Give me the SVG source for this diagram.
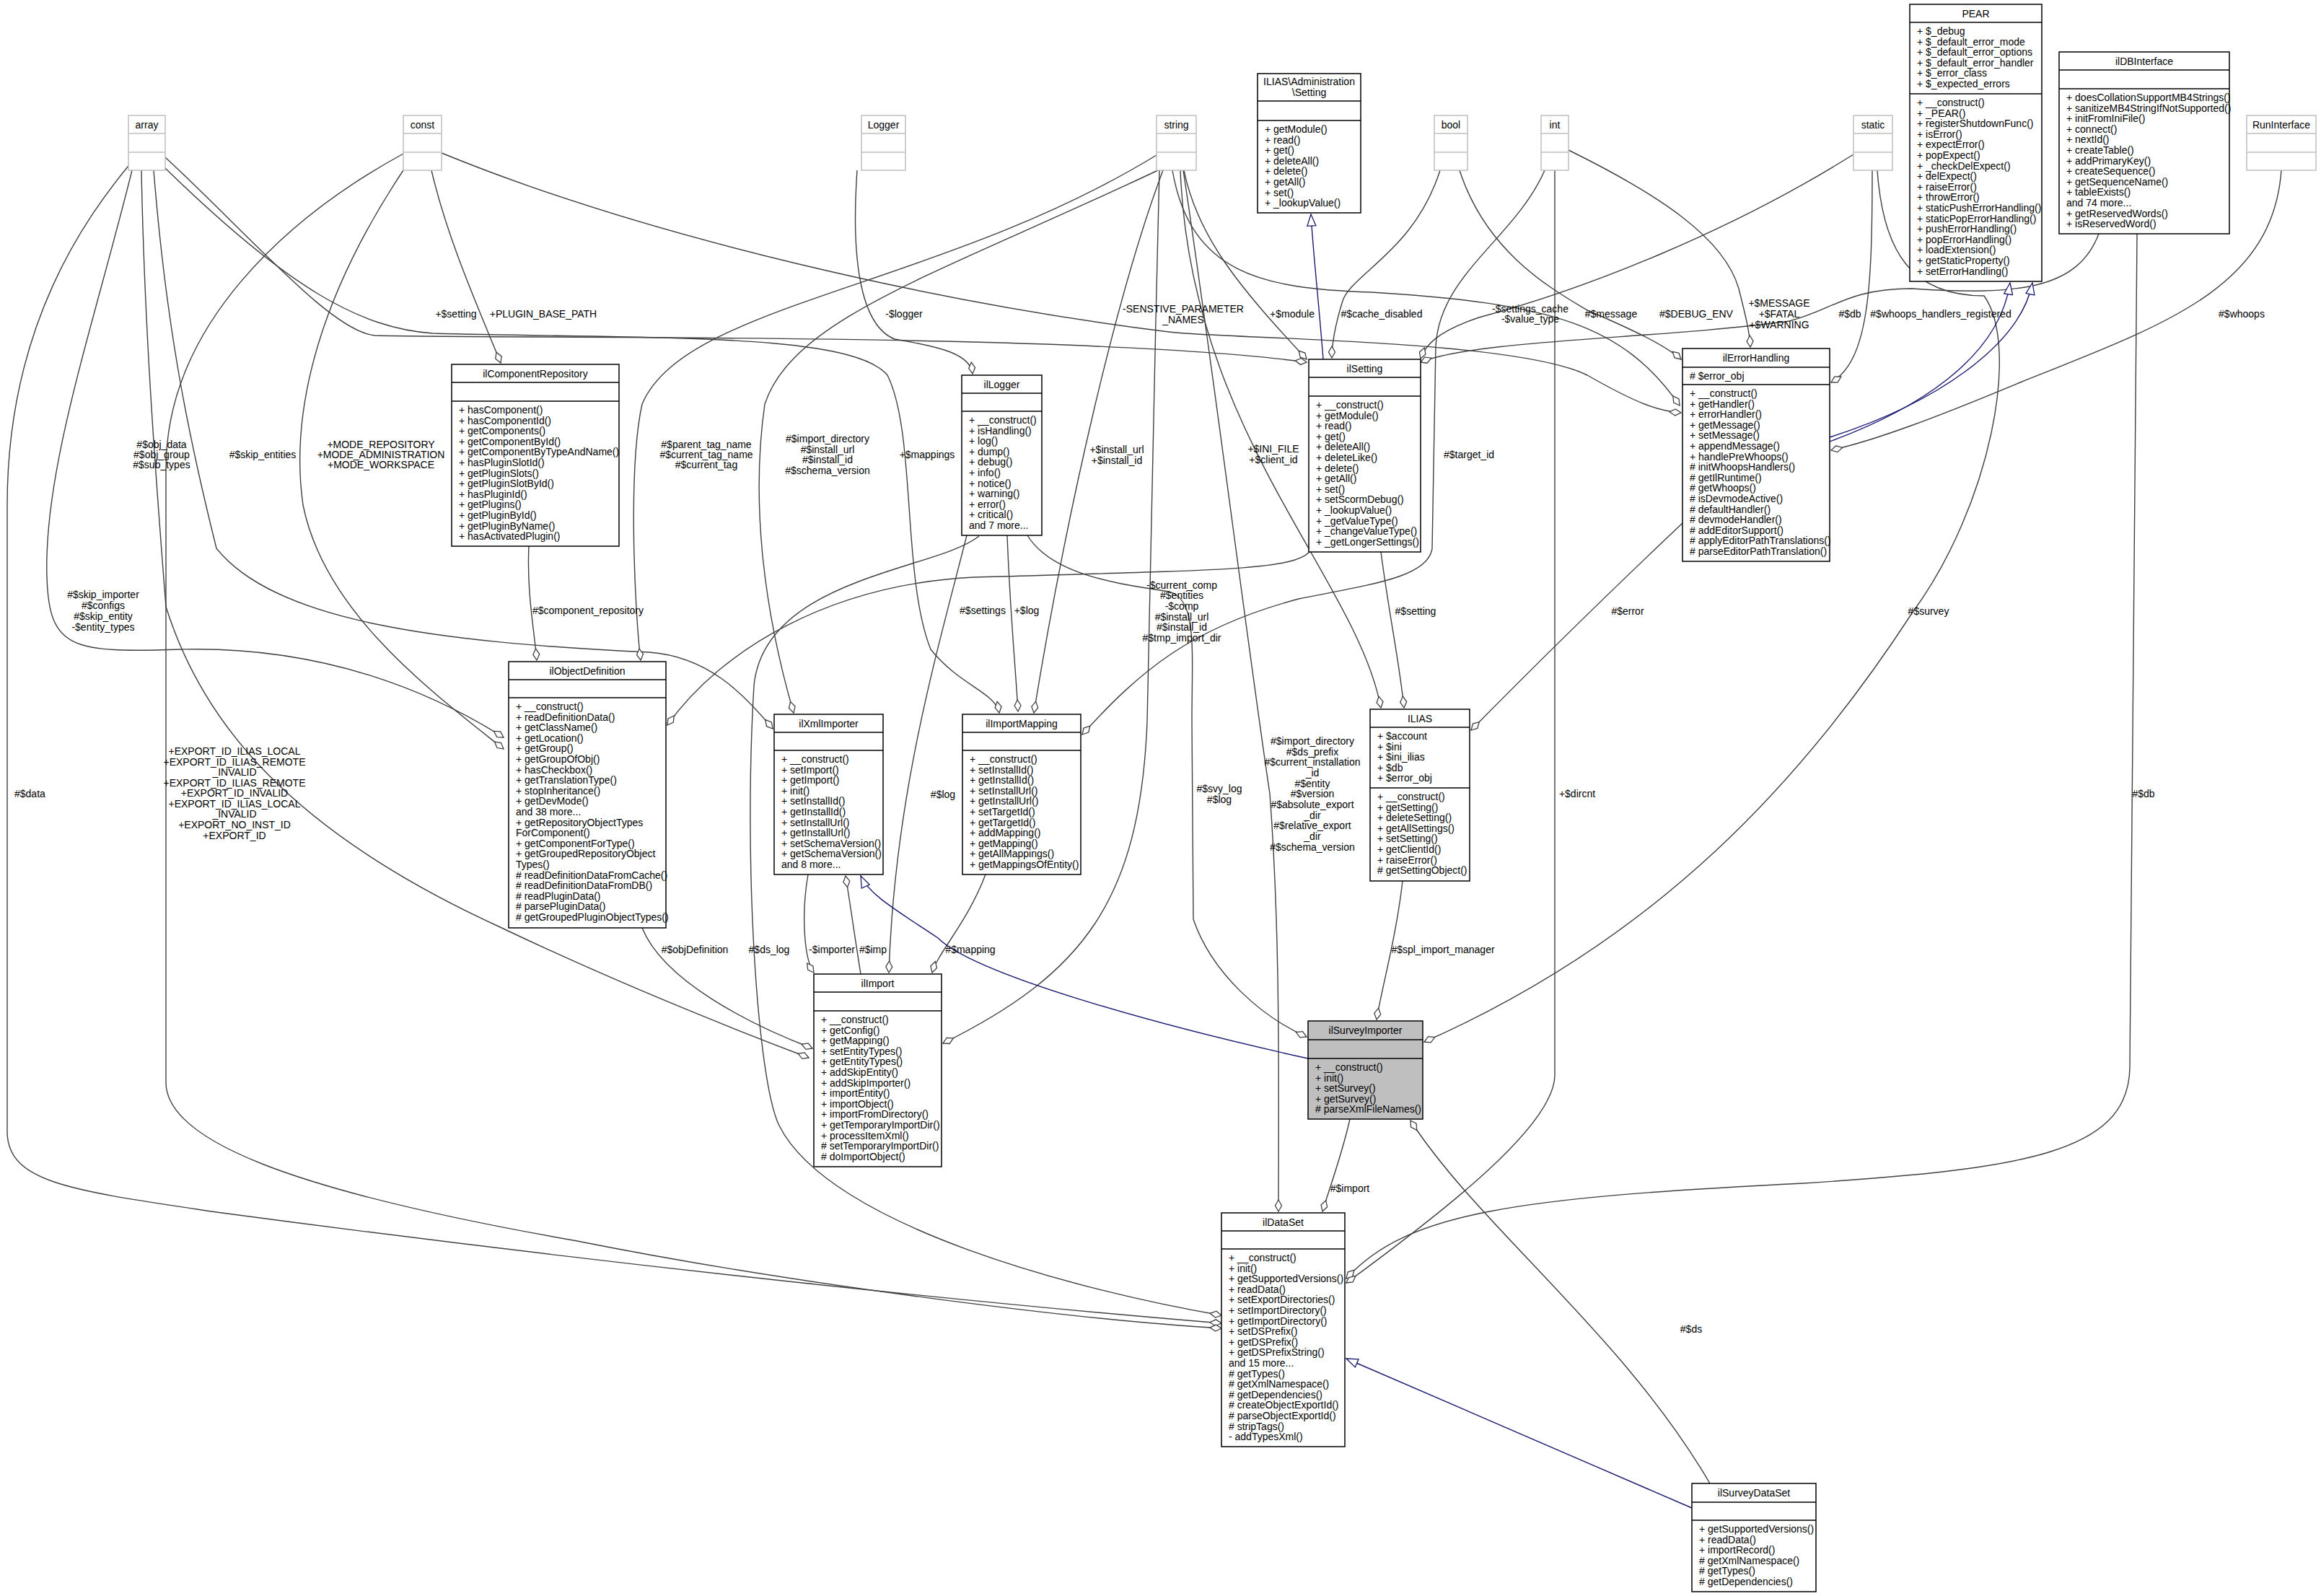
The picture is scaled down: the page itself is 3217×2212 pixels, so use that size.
<svg xmlns="http://www.w3.org/2000/svg" width="3217" height="2212" viewBox="0 0 3217 2212">
<style>
text{font-family:"Liberation Sans",Arial,sans-serif;font-size:14px;fill:#000}
.c{text-anchor:middle}
.b{fill:#fff;stroke:#000;stroke-width:1.5}
.g{fill:#fff;stroke:#bfbfbf;stroke-width:1.5}
.s{fill:#bfbfbf;stroke:#000;stroke-width:1.5}
.l{stroke:#000;stroke-width:1.5}
.lg{stroke:#bfbfbf;stroke-width:1.5}
.e{fill:none;stroke:#404040;stroke-width:1.4;marker-end:url(#dia)}
.i{fill:none;stroke:#191970;stroke-width:1.4;marker-end:url(#tri)}
</style>
<defs>
<marker id="dia" markerUnits="userSpaceOnUse" markerWidth="20" markerHeight="12" viewBox="-18 -6 20 12" refX="0" refY="0" orient="auto"><path d="M0,0 L-8,-4.5 L-16,0 L-8,4.5 Z" fill="#fff" stroke="#404040" stroke-width="1.3"/></marker>
<marker id="tri" markerUnits="userSpaceOnUse" markerWidth="20" markerHeight="14" viewBox="-18 -7 20 14" refX="0" refY="0" orient="auto"><path d="M0,0 L-16,-6 L-16,6 Z" fill="#fff" stroke="#191970" stroke-width="1.3"/></marker>
</defs>
<rect width="3217" height="2212" fill="#fff"/>
<g id="connectors">
<path class="e" d="M182,225 C120,300 10,450 10,700 L10,1570 C12,1640 100,1650 300,1680 C900,1760 1400,1810 1693,1834"/>
<path class="e" d="M559,213 C400,300 230,450 230,650 L230,1500 C230,1580 400,1650 800,1720 C1100,1780 1500,1830 1693,1841"/>
<path class="e" d="M183,236 C130,450 60,650 65,800 C68,900 100,905 250,900 C450,895 600,960 698,1022"/>
<path class="e" d="M196,236 C200,450 215,650 230,841 C280,1000 400,1150 689,1283 C850,1360 1000,1420 1121,1466"/>
<path class="e" d="M213,236 C230,450 260,600 300,760 C380,860 600,890 900,904 C980,910 1030,960 1071,1010"/>
<path class="e" d="M229,218 C350,330 460,460 520,465 C700,470 1500,460 1811,502"/>
<path class="e" d="M229,233 C400,400 500,455 600,462 C900,470 1180,460 1230,520 C1270,600 1250,800 1290,900 C1330,950 1380,960 1385,988"/>
<path class="e" d="M598,236 C620,330 660,420 694,503"/>
<path class="e" d="M559,236 C450,400 400,560 420,700 C450,850 600,960 698,1038"/>
<path class="e" d="M612,212 C900,330 1300,420 1620,460 C1700,470 2100,470 2200,520 C2270,560 2300,570 2330,572"/>
<path class="e" d="M1188,236 C1180,350 1190,450 1240,470 C1300,480 1345,490 1348,518"/>
<path class="e" d="M1603,215 C1300,400 950,420 890,560 C870,650 880,850 888,915"/>
<path class="e" d="M1605,236 C1300,380 1100,440 1060,560 C1040,700 1060,850 1100,988"/>
<path class="e" d="M1612,236 C1550,400 1480,700 1433,988"/>
<path class="e" d="M1641,236 C1660,330 1720,400 1811,498"/>
<path class="e" d="M1625,236 C1650,380 1750,400 1900,405 C2150,420 2250,450 2328,562"/>
<path class="e" d="M1636,236 C1650,600 1880,800 1914,981"/>
<path class="e" d="M1640,236 C1680,500 1730,900 1760,1100 C1775,1300 1772,1500 1772,1679"/>
<path class="e" d="M1607,236 C1600,500 1595,800 1590,1000 C1580,1250 1500,1350 1307,1446"/>
<path class="e" d="M1424,742 C1460,800 1560,810 1620,820 C1660,830 1652,900 1652,1000 L1654,1274 C1680,1350 1750,1410 1811,1437"/>
<path class="e" d="M1996,236 C1960,350 1870,380 1860,420 C1848,460 1846,480 1846,496"/>
<path class="e" d="M2023,236 C2060,350 2150,400 2200,430 C2270,460 2310,480 2330,498"/>
<path class="e" d="M2174,208 C2300,270 2390,330 2410,400 C2420,440 2425,460 2426,481"/>
<path class="e" d="M2141,236 C2100,330 1995,380 1990,480 L1985,760 C1980,800 1900,810 1800,830 C1650,870 1580,930 1500,1018"/>
<path class="e" d="M2155,236 L2155,1490 C2155,1560 2000,1680 1866,1778"/>
<path class="e" d="M2569,214 C2400,320 2200,400 2050,440 C1990,460 1975,480 1969,497"/>
<path class="e" d="M2595,236 C2595,400 2590,500 2538,530"/>
<path class="e" d="M2602,236 C2610,350 2650,410 2750,410 C2800,480 2760,700 2650,850 C2500,1080 2300,1300 1974,1444"/>
<path class="e" d="M2909,324 C2880,400 2800,410 2650,400 C2560,400 2540,430 2480,445 C2300,470 2050,470 1969,502"/>
<path class="e" d="M2962,324 L2952,1480 C2950,1600 2800,1620 2500,1640 C2100,1660 1950,1680 1866,1772"/>
<path class="e" d="M3162,236 C3150,400 3000,450 2800,530 C2680,580 2600,610 2538,624"/>
<path class="e" d="M733,757 C730,820 740,870 744,915"/>
<path class="e" d="M1815,765 C1790,790 1700,790 1350,800 C1150,810 1000,900 925,1005"/>
<path class="e" d="M1340,742 C1300,900 1240,1100 1232,1348"/>
<path class="e" d="M1396,742 C1400,850 1408,930 1411,986"/>
<path class="e" d="M1357,743 C1300,790 1060,800 1045,950 C1030,1200 1050,1500 1080,1560 C1150,1700 1500,1790 1693,1823"/>
<path class="e" d="M1914,765 C1925,850 1940,920 1946,981"/>
<path class="e" d="M2332,725 C2200,850 2100,950 2039,1012"/>
<path class="e" d="M1944,1221 C1935,1300 1915,1370 1908,1413"/>
<path class="e" d="M890,1286 C920,1360 1040,1420 1126,1453"/>
<path class="e" d="M1120,1212 C1110,1270 1115,1330 1128,1348"/>
<path class="e" d="M1193,1350 C1185,1300 1178,1250 1172,1214"/>
<path class="e" d="M1366,1212 C1340,1280 1300,1320 1292,1348"/>
<path class="e" d="M1871,1551 C1860,1600 1845,1640 1833,1679"/>
<path class="e" d="M2370,2056 C2250,1850 2050,1700 1955,1553"/>
<path class="i" d="M2536,612 C2650,570 2770,500 2786,392"/>
<path class="i" d="M2536,606 C2680,560 2800,480 2817,392"/>
<path class="i" d="M1834,498 C1828,420 1820,350 1817,297"/>
<path class="i" d="M1813,1467 C1600,1420 1350,1350 1300,1300 C1240,1260 1205,1240 1193,1214"/>
<path class="i" d="M2345,2090 L1866,1883"/>
</g>
<g id="edge-labels">
<text class="c" x="632" y="440">+$setting</text>
<text class="c" x="753" y="440">+PLUGIN_BASE_PATH</text>
<text class="c" x="1253" y="440">-$logger</text>
<text class="c" x="1640" y="433">-SENSTIVE_PARAMETER</text>
<text class="c" x="1640" y="448">_NAMES</text>
<text class="c" x="224" y="621">#$obj_data</text><text class="c" x="224" y="635">#$obj_group</text><text class="c" x="224" y="649">#$sub_types</text>
<text class="c" x="364" y="635">#$skip_entities</text>
<text class="c" x="528" y="621">+MODE_REPOSITORY</text><text class="c" x="528" y="635">+MODE_ADMINISTRATION</text><text class="c" x="528" y="649">+MODE_WORKSPACE</text>
<text class="c" x="979" y="621">#$parent_tag_name</text><text class="c" x="979" y="635">#$current_tag_name</text><text class="c" x="979" y="649">#$current_tag</text>
<text class="c" x="1147" y="613">#$import_directory</text><text class="c" x="1147" y="628">#$install_url</text><text class="c" x="1147" y="642">#$install_id</text><text class="c" x="1147" y="657">#$schema_version</text>
<text class="c" x="1285" y="635">+$mappings</text>
<text class="c" x="1548" y="628">+$install_url</text><text class="c" x="1548" y="643">+$install_id</text>
<text class="c" x="1791" y="440">+$module</text>
<text class="c" x="1915" y="440">#$cache_disabled</text>
<text class="c" x="2121" y="433">-$settings_cache</text><text class="c" x="2121" y="447">-$value_type</text>
<text class="c" x="2233" y="440">#$message</text>
<text class="c" x="2351" y="440">#$DEBUG_ENV</text>
<text class="c" x="2466" y="425">+$MESSAGE</text><text class="c" x="2466" y="440">+$FATAL</text><text class="c" x="2466" y="455">+$WARNING</text>
<text class="c" x="2564" y="440">#$db</text>
<text class="c" x="2690" y="440">#$whoops_handlers_registered</text>
<text class="c" x="3107" y="440">#$whoops</text>
<text class="c" x="1765" y="627">+$INI_FILE</text><text class="c" x="1765" y="642">+$client_id</text>
<text class="c" x="2036" y="635">#$target_id</text>
<text class="c" x="1962" y="852">#$setting</text>
<text class="c" x="2256" y="852">#$error</text>
<text class="c" x="2673" y="852">#$survey</text>
<text class="c" x="1362" y="851">#$settings</text>
<text class="c" x="1423" y="851">+$log</text>
<text class="c" x="815" y="851">#$component_repository</text>
<text class="c" x="1638" y="816">-$current_comp</text><text class="c" x="1638" y="830">#$entities</text><text class="c" x="1638" y="845">-$comp</text><text class="c" x="1638" y="860">#$install_url</text><text class="c" x="1638" y="874">#$install_id</text><text class="c" x="1638" y="889">#$tmp_import_dir</text>
<text class="c" x="1307" y="1106">#$log</text>
<text class="c" x="1690" y="1098">#$svy_log</text><text class="c" x="1690" y="1113">#$log</text>
<text class="c" x="1819" y="1032">#$import_directory</text><text class="c" x="1819" y="1047">#$ds_prefix</text><text class="c" x="1819" y="1061">#$current_installation</text><text class="c" x="1819" y="1076">_id</text><text class="c" x="1819" y="1091">#$entity</text><text class="c" x="1819" y="1105">#$version</text><text class="c" x="1819" y="1120">#$absolute_export</text><text class="c" x="1819" y="1135">_dir</text><text class="c" x="1819" y="1149">#$relative_export</text><text class="c" x="1819" y="1164">_dir</text><text class="c" x="1819" y="1179">#$schema_version</text>
<text class="c" x="2000" y="1321">#$spl_import_manager</text>
<text class="c" x="2186" y="1105">+$dircnt</text>
<text class="c" x="2971" y="1105">#$db</text>
<text class="c" x="963" y="1321">#$objDefinition</text>
<text class="c" x="1066" y="1321">#$ds_log</text>
<text class="c" x="1153" y="1321">-$importer</text>
<text class="c" x="1210" y="1321">#$imp</text>
<text class="c" x="1345" y="1321">#$mapping</text>
<text class="c" x="1871" y="1652">#$import</text>
<text class="c" x="2344" y="1847">#$ds</text>
<text class="c" x="143" y="829">#$skip_importer</text><text class="c" x="143" y="844">#$configs</text><text class="c" x="143" y="859">#$skip_entity</text><text class="c" x="143" y="874">-$entity_types</text>
<text class="c" x="325" y="1046">+EXPORT_ID_ILIAS_LOCAL</text><text class="c" x="325" y="1061">+EXPORT_ID_ILIAS_REMOTE</text><text class="c" x="325" y="1075">_INVALID</text><text class="c" x="325" y="1090">+EXPORT_ID_ILIAS_REMOTE</text><text class="c" x="325" y="1104">+EXPORT_ID_INVALID</text><text class="c" x="325" y="1119">+EXPORT_ID_ILIAS_LOCAL</text><text class="c" x="325" y="1133">_INVALID</text><text class="c" x="325" y="1148">+EXPORT_NO_INST_ID</text><text class="c" x="325" y="1163">+EXPORT_ID</text>
<text x="20" y="1105">#$data</text>
</g>
<g id="array"><rect class="g" x="178" y="160" width="51" height="76"/><line class="lg" x1="178" y1="185" x2="229" y2="185"/><line class="lg" x1="178" y1="211" x2="229" y2="211"/><text class="c" x="203.5" y="178">array</text></g>
<g id="const"><rect class="g" x="559" y="160" width="53" height="76"/><line class="lg" x1="559" y1="185" x2="612" y2="185"/><line class="lg" x1="559" y1="211" x2="612" y2="211"/><text class="c" x="585.5" y="178">const</text></g>
<g id="Logger"><rect class="g" x="1194" y="160" width="61" height="76"/><line class="lg" x1="1194" y1="185" x2="1255" y2="185"/><line class="lg" x1="1194" y1="211" x2="1255" y2="211"/><text class="c" x="1224.5" y="178">Logger</text></g>
<g id="string"><rect class="g" x="1603" y="160" width="55" height="76"/><line class="lg" x1="1603" y1="185" x2="1658" y2="185"/><line class="lg" x1="1603" y1="211" x2="1658" y2="211"/><text class="c" x="1630.5" y="178">string</text></g>
<g id="bool"><rect class="g" x="1988" y="160" width="46" height="76"/><line class="lg" x1="1988" y1="185" x2="2034" y2="185"/><line class="lg" x1="1988" y1="211" x2="2034" y2="211"/><text class="c" x="2011" y="178">bool</text></g>
<g id="int"><rect class="g" x="2136" y="160" width="38" height="76"/><line class="lg" x1="2136" y1="185" x2="2174" y2="185"/><line class="lg" x1="2136" y1="211" x2="2174" y2="211"/><text class="c" x="2155" y="178">int</text></g>
<g id="static"><rect class="g" x="2569" y="160" width="54" height="76"/><line class="lg" x1="2569" y1="185" x2="2623" y2="185"/><line class="lg" x1="2569" y1="211" x2="2623" y2="211"/><text class="c" x="2596" y="178">static</text></g>
<g id="RunInterface"><rect class="g" x="3114" y="160" width="96" height="76"/><line class="lg" x1="3114" y1="185" x2="3210" y2="185"/><line class="lg" x1="3114" y1="211" x2="3210" y2="211"/><text class="c" x="3162" y="178">RunInterface</text></g>
<g id="ilComponentRepository"><rect class="b" x="626" y="505" width="232" height="252"/><line class="l" x1="626" y1="530" x2="858" y2="530"/><line class="l" x1="626" y1="556" x2="858" y2="556"/><text class="c" x="742" y="523">ilComponentRepository</text>
<text x="636" y="573">+ hasComponent()<tspan x="636" dy="14.6">+ hasComponentId()</tspan><tspan x="636" dy="14.6">+ getComponents()</tspan><tspan x="636" dy="14.6">+ getComponentById()</tspan><tspan x="636" dy="14.6">+ getComponentByTypeAndName()</tspan><tspan x="636" dy="14.6">+ hasPluginSlotId()</tspan><tspan x="636" dy="14.6">+ getPluginSlots()</tspan><tspan x="636" dy="14.6">+ getPluginSlotById()</tspan><tspan x="636" dy="14.6">+ hasPluginId()</tspan><tspan x="636" dy="14.6">+ getPlugins()</tspan><tspan x="636" dy="14.6">+ getPluginById()</tspan><tspan x="636" dy="14.6">+ getPluginByName()</tspan><tspan x="636" dy="14.6">+ hasActivatedPlugin()</tspan></text></g>
<g id="ilLogger"><rect class="b" x="1333" y="520" width="111" height="222"/><line class="l" x1="1333" y1="545" x2="1444" y2="545"/><line class="l" x1="1333" y1="570" x2="1444" y2="570"/><text class="c" x="1388.5" y="538">ilLogger</text>
<text x="1343" y="587">+ __construct()<tspan x="1343" dy="14.6">+ isHandling()</tspan><tspan x="1343" dy="14.6">+ log()</tspan><tspan x="1343" dy="14.6">+ dump()</tspan><tspan x="1343" dy="14.6">+ debug()</tspan><tspan x="1343" dy="14.6">+ info()</tspan><tspan x="1343" dy="14.6">+ notice()</tspan><tspan x="1343" dy="14.6">+ warning()</tspan><tspan x="1343" dy="14.6">+ error()</tspan><tspan x="1343" dy="14.6">+ critical()</tspan><tspan x="1343" dy="14.6">and 7 more...</tspan></text></g>
<g id="ilObjectDefinition"><rect class="b" x="705" y="917" width="218" height="369"/><line class="l" x1="705" y1="942" x2="923" y2="942"/><line class="l" x1="705" y1="967" x2="923" y2="967"/><text class="c" x="814" y="935">ilObjectDefinition</text>
<text x="715" y="984">+ __construct()<tspan x="715" dy="14.6">+ readDefinitionData()</tspan><tspan x="715" dy="14.6">+ getClassName()</tspan><tspan x="715" dy="14.6">+ getLocation()</tspan><tspan x="715" dy="14.6">+ getGroup()</tspan><tspan x="715" dy="14.6">+ getGroupOfObj()</tspan><tspan x="715" dy="14.6">+ hasCheckbox()</tspan><tspan x="715" dy="14.6">+ getTranslationType()</tspan><tspan x="715" dy="14.6">+ stopInheritance()</tspan><tspan x="715" dy="14.6">+ getDevMode()</tspan><tspan x="715" dy="14.6">and 38 more...</tspan><tspan x="715" dy="14.6">+ getRepositoryObjectTypes</tspan><tspan x="715" dy="14.6">ForComponent()</tspan><tspan x="715" dy="14.6">+ getComponentForType()</tspan><tspan x="715" dy="14.6">+ getGroupedRepositoryObject</tspan><tspan x="715" dy="14.6">Types()</tspan><tspan x="715" dy="14.6"># readDefinitionDataFromCache()</tspan><tspan x="715" dy="14.6"># readDefinitionDataFromDB()</tspan><tspan x="715" dy="14.6"># readPluginData()</tspan><tspan x="715" dy="14.6"># parsePluginData()</tspan><tspan x="715" dy="14.6"># getGroupedPluginObjectTypes()</tspan></text></g>
<g id="ilXmlImporter"><rect class="b" x="1073" y="990" width="151" height="222"/><line class="l" x1="1073" y1="1015" x2="1224" y2="1015"/><line class="l" x1="1073" y1="1040" x2="1224" y2="1040"/><text class="c" x="1148.5" y="1008">ilXmlImporter</text>
<text x="1083" y="1057">+ __construct()<tspan x="1083" dy="14.6">+ setImport()</tspan><tspan x="1083" dy="14.6">+ getImport()</tspan><tspan x="1083" dy="14.6">+ init()</tspan><tspan x="1083" dy="14.6">+ setInstallId()</tspan><tspan x="1083" dy="14.6">+ getInstallId()</tspan><tspan x="1083" dy="14.6">+ setInstallUrl()</tspan><tspan x="1083" dy="14.6">+ getInstallUrl()</tspan><tspan x="1083" dy="14.6">+ setSchemaVersion()</tspan><tspan x="1083" dy="14.6">+ getSchemaVersion()</tspan><tspan x="1083" dy="14.6">and 8 more...</tspan></text></g>
<g id="ilImportMapping"><rect class="b" x="1334" y="990" width="164" height="222"/><line class="l" x1="1334" y1="1015" x2="1498" y2="1015"/><line class="l" x1="1334" y1="1040" x2="1498" y2="1040"/><text class="c" x="1416" y="1008">ilImportMapping</text>
<text x="1344" y="1057">+ __construct()<tspan x="1344" dy="14.6">+ setInstallId()</tspan><tspan x="1344" dy="14.6">+ getInstallId()</tspan><tspan x="1344" dy="14.6">+ setInstallUrl()</tspan><tspan x="1344" dy="14.6">+ getInstallUrl()</tspan><tspan x="1344" dy="14.6">+ setTargetId()</tspan><tspan x="1344" dy="14.6">+ getTargetId()</tspan><tspan x="1344" dy="14.6">+ addMapping()</tspan><tspan x="1344" dy="14.6">+ getMapping()</tspan><tspan x="1344" dy="14.6">+ getAllMappings()</tspan><tspan x="1344" dy="14.6">+ getMappingsOfEntity()</tspan></text></g>
<g id="ilImport"><rect class="b" x="1128" y="1350" width="177" height="267"/><line class="l" x1="1128" y1="1375" x2="1305" y2="1375"/><line class="l" x1="1128" y1="1401" x2="1305" y2="1401"/><text class="c" x="1216.5" y="1368">ilImport</text>
<text x="1138" y="1418">+ __construct()<tspan x="1138" dy="14.6">+ getConfig()</tspan><tspan x="1138" dy="14.6">+ getMapping()</tspan><tspan x="1138" dy="14.6">+ setEntityTypes()</tspan><tspan x="1138" dy="14.6">+ getEntityTypes()</tspan><tspan x="1138" dy="14.6">+ addSkipEntity()</tspan><tspan x="1138" dy="14.6">+ addSkipImporter()</tspan><tspan x="1138" dy="14.6">+ importEntity()</tspan><tspan x="1138" dy="14.6">+ importObject()</tspan><tspan x="1138" dy="14.6">+ importFromDirectory()</tspan><tspan x="1138" dy="14.6">+ getTemporaryImportDir()</tspan><tspan x="1138" dy="14.6">+ processItemXml()</tspan><tspan x="1138" dy="14.6"># setTemporaryImportDir()</tspan><tspan x="1138" dy="14.6"># doImportObject()</tspan></text></g>
<g id="ilSetting"><rect class="b" x="1814" y="498" width="155" height="267"/><line class="l" x1="1814" y1="523" x2="1969" y2="523"/><line class="l" x1="1814" y1="549" x2="1969" y2="549"/><text class="c" x="1891.5" y="516">ilSetting</text>
<text x="1824" y="566">+ __construct()<tspan x="1824" dy="14.6">+ getModule()</tspan><tspan x="1824" dy="14.6">+ read()</tspan><tspan x="1824" dy="14.6">+ get()</tspan><tspan x="1824" dy="14.6">+ deleteAll()</tspan><tspan x="1824" dy="14.6">+ deleteLike()</tspan><tspan x="1824" dy="14.6">+ delete()</tspan><tspan x="1824" dy="14.6">+ getAll()</tspan><tspan x="1824" dy="14.6">+ set()</tspan><tspan x="1824" dy="14.6">+ setScormDebug()</tspan><tspan x="1824" dy="14.6">+ _lookupValue()</tspan><tspan x="1824" dy="14.6">+ _getValueType()</tspan><tspan x="1824" dy="14.6">+ _changeValueType()</tspan><tspan x="1824" dy="14.6">+ _getLongerSettings()</tspan></text></g>
<g id="ILIAS_Administration_Setting"><rect class="b" x="1743" y="102" width="143" height="193"/><line class="l" x1="1743" y1="140" x2="1886" y2="140"/><line class="l" x1="1743" y1="167" x2="1886" y2="167"/><text class="c" x="1814.5" y="118">ILIAS\Administration</text><text class="c" x="1814.5" y="133">\Setting</text>
<text x="1753" y="184">+ getModule()<tspan x="1753" dy="14.6">+ read()</tspan><tspan x="1753" dy="14.6">+ get()</tspan><tspan x="1753" dy="14.6">+ deleteAll()</tspan><tspan x="1753" dy="14.6">+ delete()</tspan><tspan x="1753" dy="14.6">+ getAll()</tspan><tspan x="1753" dy="14.6">+ set()</tspan><tspan x="1753" dy="14.6">+ _lookupValue()</tspan></text></g>
<g id="ilErrorHandling"><rect class="b" x="2332" y="483" width="204" height="295"/><line class="l" x1="2332" y1="509" x2="2536" y2="509"/><line class="l" x1="2332" y1="533" x2="2536" y2="533"/><text class="c" x="2434" y="501">ilErrorHandling</text><text x="2342" y="526"># $error_obj</text>
<text x="2342" y="550">+ __construct()<tspan x="2342" dy="14.6">+ getHandler()</tspan><tspan x="2342" dy="14.6">+ errorHandler()</tspan><tspan x="2342" dy="14.6">+ getMessage()</tspan><tspan x="2342" dy="14.6">+ setMessage()</tspan><tspan x="2342" dy="14.6">+ appendMessage()</tspan><tspan x="2342" dy="14.6">+ handlePreWhoops()</tspan><tspan x="2342" dy="14.6"># initWhoopsHandlers()</tspan><tspan x="2342" dy="14.6"># getIlRuntime()</tspan><tspan x="2342" dy="14.6"># getWhoops()</tspan><tspan x="2342" dy="14.6"># isDevmodeActive()</tspan><tspan x="2342" dy="14.6"># defaultHandler()</tspan><tspan x="2342" dy="14.6"># devmodeHandler()</tspan><tspan x="2342" dy="14.6"># addEditorSupport()</tspan><tspan x="2342" dy="14.6"># applyEditorPathTranslations()</tspan><tspan x="2342" dy="14.6"># parseEditorPathTranslation()</tspan></text></g>
<g id="PEAR"><rect class="b" x="2647" y="6" width="183" height="384"/><line class="l" x1="2647" y1="31" x2="2830" y2="31"/><line class="l" x1="2647" y1="130" x2="2830" y2="130"/><text class="c" x="2738.5" y="24">PEAR</text>
<text x="2657" y="48">+ $_debug<tspan x="2657" dy="14.6">+ $_default_error_mode</tspan><tspan x="2657" dy="14.6">+ $_default_error_options</tspan><tspan x="2657" dy="14.6">+ $_default_error_handler</tspan><tspan x="2657" dy="14.6">+ $_error_class</tspan><tspan x="2657" dy="14.6">+ $_expected_errors</tspan></text>
<text x="2657" y="147">+ __construct()<tspan x="2657" dy="14.6">+ _PEAR()</tspan><tspan x="2657" dy="14.6">+ registerShutdownFunc()</tspan><tspan x="2657" dy="14.6">+ isError()</tspan><tspan x="2657" dy="14.6">+ expectError()</tspan><tspan x="2657" dy="14.6">+ popExpect()</tspan><tspan x="2657" dy="14.6">+ _checkDelExpect()</tspan><tspan x="2657" dy="14.6">+ delExpect()</tspan><tspan x="2657" dy="14.6">+ raiseError()</tspan><tspan x="2657" dy="14.6">+ throwError()</tspan><tspan x="2657" dy="14.6">+ staticPushErrorHandling()</tspan><tspan x="2657" dy="14.6">+ staticPopErrorHandling()</tspan><tspan x="2657" dy="14.6">+ pushErrorHandling()</tspan><tspan x="2657" dy="14.6">+ popErrorHandling()</tspan><tspan x="2657" dy="14.6">+ loadExtension()</tspan><tspan x="2657" dy="14.6">+ getStaticProperty()</tspan><tspan x="2657" dy="14.6">+ setErrorHandling()</tspan></text></g>
<g id="ilDBInterface"><rect class="b" x="2854" y="72" width="236" height="252"/><line class="l" x1="2854" y1="97" x2="3090" y2="97"/><line class="l" x1="2854" y1="123" x2="3090" y2="123"/><text class="c" x="2972" y="90">ilDBInterface</text>
<text x="2864" y="140">+ doesCollationSupportMB4Strings()<tspan x="2864" dy="14.6">+ sanitizeMB4StringIfNotSupported()</tspan><tspan x="2864" dy="14.6">+ initFromIniFile()</tspan><tspan x="2864" dy="14.6">+ connect()</tspan><tspan x="2864" dy="14.6">+ nextId()</tspan><tspan x="2864" dy="14.6">+ createTable()</tspan><tspan x="2864" dy="14.6">+ addPrimaryKey()</tspan><tspan x="2864" dy="14.6">+ createSequence()</tspan><tspan x="2864" dy="14.6">+ getSequenceName()</tspan><tspan x="2864" dy="14.6">+ tableExists()</tspan><tspan x="2864" dy="14.6">and 74 more...</tspan><tspan x="2864" dy="14.6">+ getReservedWords()</tspan><tspan x="2864" dy="14.6">+ isReservedWord()</tspan></text></g>
<g id="ILIAS"><rect class="b" x="1899" y="983" width="138" height="238"/><line class="l" x1="1899" y1="1008" x2="2037" y2="1008"/><line class="l" x1="1899" y1="1092" x2="2037" y2="1092"/><text class="c" x="1968" y="1001">ILIAS</text>
<text x="1909" y="1025">+ $account<tspan x="1909" dy="14.6">+ $ini</tspan><tspan x="1909" dy="14.6">+ $ini_ilias</tspan><tspan x="1909" dy="14.6">+ $db</tspan><tspan x="1909" dy="14.6">+ $error_obj</tspan></text>
<text x="1909" y="1109">+ __construct()<tspan x="1909" dy="14.6">+ getSetting()</tspan><tspan x="1909" dy="14.6">+ deleteSetting()</tspan><tspan x="1909" dy="14.6">+ getAllSettings()</tspan><tspan x="1909" dy="14.6">+ setSetting()</tspan><tspan x="1909" dy="14.6">+ getClientId()</tspan><tspan x="1909" dy="14.6">+ raiseError()</tspan><tspan x="1909" dy="14.6"># getSettingObject()</tspan></text></g>
<g id="ilSurveyImporter"><rect class="s" x="1813" y="1415" width="159" height="136"/><line class="l" x1="1813" y1="1441" x2="1972" y2="1441"/><line class="l" x1="1813" y1="1467" x2="1972" y2="1467"/><text class="c" x="1892.5" y="1433">ilSurveyImporter</text>
<text x="1823" y="1484">+ __construct()<tspan x="1823" dy="14.6">+ init()</tspan><tspan x="1823" dy="14.6">+ setSurvey()</tspan><tspan x="1823" dy="14.6">+ getSurvey()</tspan><tspan x="1823" dy="14.6"># parseXmlFileNames()</tspan></text></g>
<g id="ilDataSet"><rect class="b" x="1693" y="1681" width="171" height="324"/><line class="l" x1="1693" y1="1706" x2="1864" y2="1706"/><line class="l" x1="1693" y1="1731" x2="1864" y2="1731"/><text class="c" x="1778.5" y="1699">ilDataSet</text>
<text x="1703" y="1748">+ __construct()<tspan x="1703" dy="14.6">+ init()</tspan><tspan x="1703" dy="14.6">+ getSupportedVersions()</tspan><tspan x="1703" dy="14.6">+ readData()</tspan><tspan x="1703" dy="14.6">+ setExportDirectories()</tspan><tspan x="1703" dy="14.6">+ setImportDirectory()</tspan><tspan x="1703" dy="14.6">+ getImportDirectory()</tspan><tspan x="1703" dy="14.6">+ setDSPrefix()</tspan><tspan x="1703" dy="14.6">+ getDSPrefix()</tspan><tspan x="1703" dy="14.6">+ getDSPrefixString()</tspan><tspan x="1703" dy="14.6">and 15 more...</tspan><tspan x="1703" dy="14.6"># getTypes()</tspan><tspan x="1703" dy="14.6"># getXmlNamespace()</tspan><tspan x="1703" dy="14.6"># getDependencies()</tspan><tspan x="1703" dy="14.6"># createObjectExportId()</tspan><tspan x="1703" dy="14.6"># parseObjectExportId()</tspan><tspan x="1703" dy="14.6"># stripTags()</tspan><tspan x="1703" dy="14.6">- addTypesXml()</tspan></text></g>
<g id="ilSurveyDataSet"><rect class="b" x="2345" y="2056" width="172" height="150"/><line class="l" x1="2345" y1="2082" x2="2517" y2="2082"/><line class="l" x1="2345" y1="2107" x2="2517" y2="2107"/><text class="c" x="2431" y="2074">ilSurveyDataSet</text>
<text x="2355" y="2124">+ getSupportedVersions()<tspan x="2355" dy="14.6">+ readData()</tspan><tspan x="2355" dy="14.6">+ importRecord()</tspan><tspan x="2355" dy="14.6"># getXmlNamespace()</tspan><tspan x="2355" dy="14.6"># getTypes()</tspan><tspan x="2355" dy="14.6"># getDependencies()</tspan></text></g>
</svg>
